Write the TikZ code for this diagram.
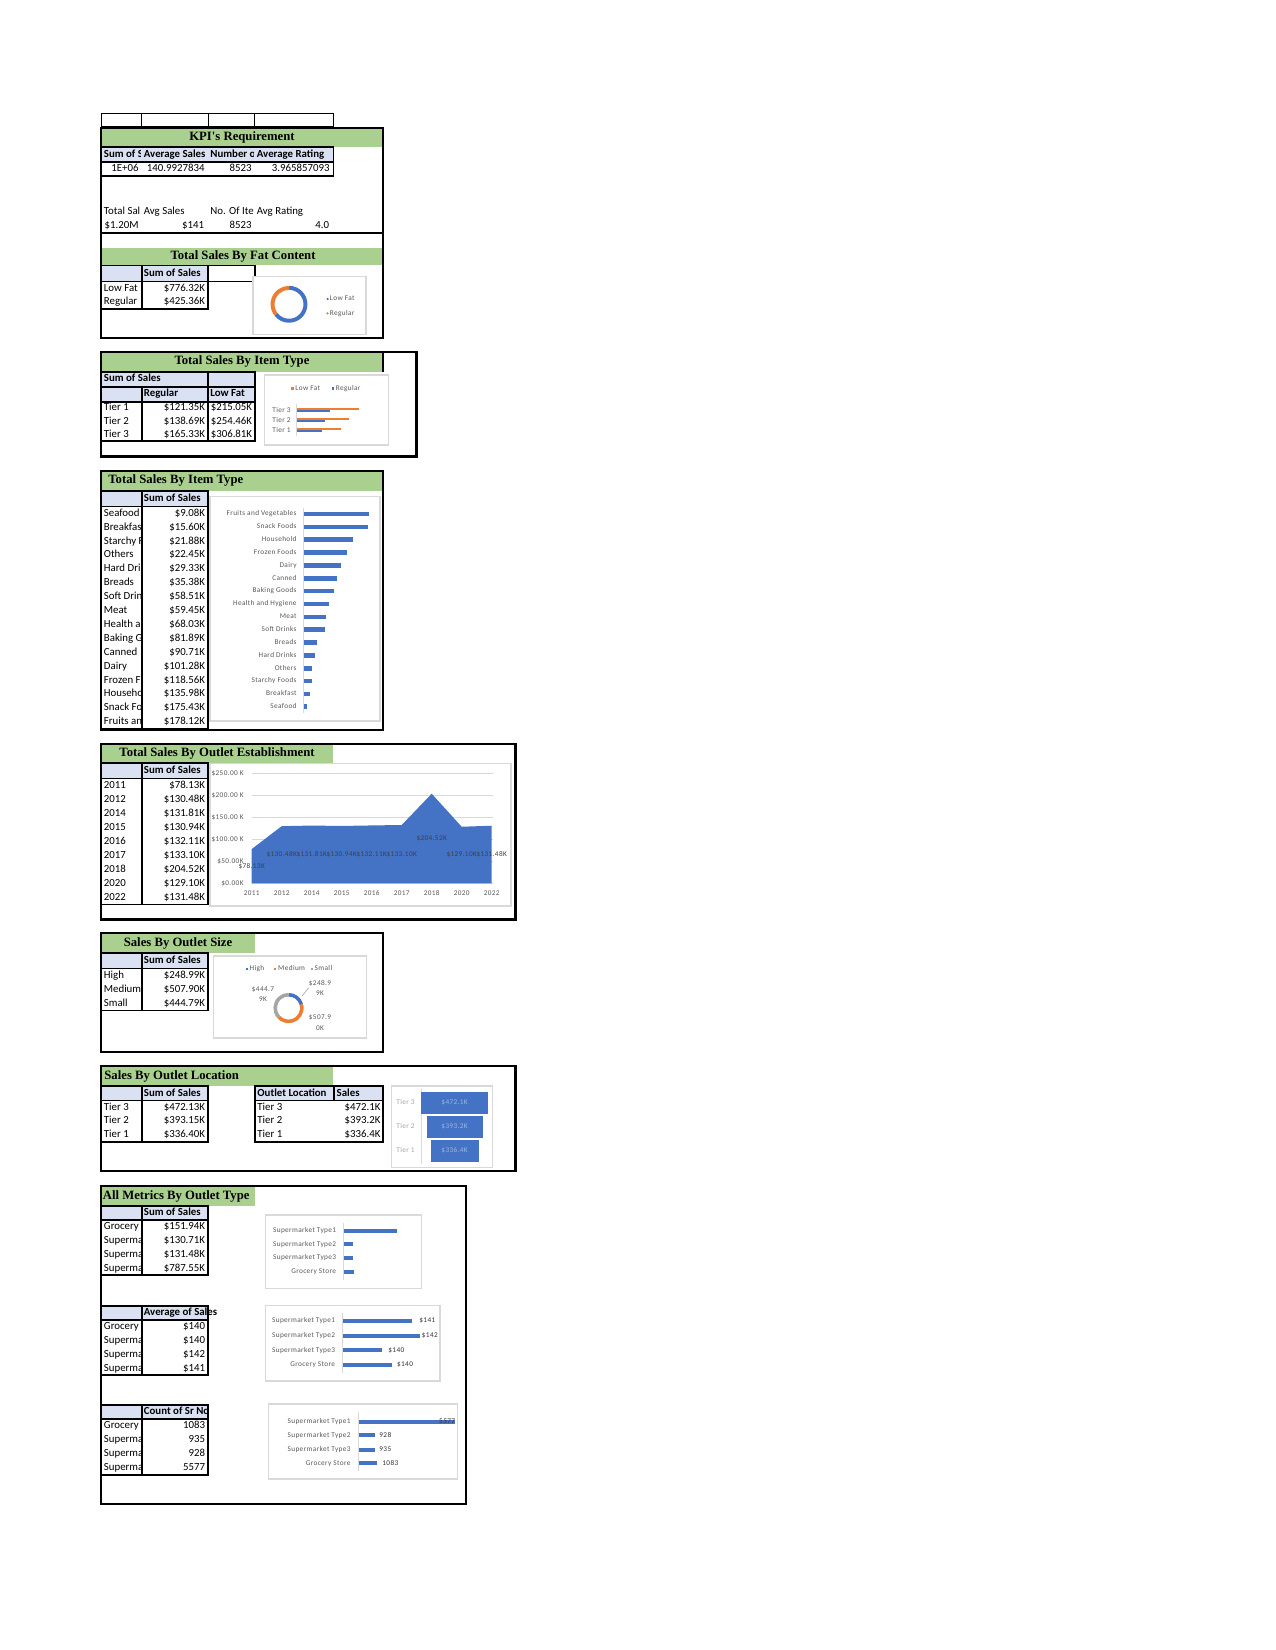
\documentclass[tikz,border=0pt]{standalone}
\usepackage{fontspec}
\setmainfont{Carlito}
\newfontfamily\ttlfam{Liberation Serif}
\newfontfamily\chfam[LetterSpace=5]{Carlito}
\newcommand\tabfont{\fontsize{5.2}{6}\selectfont}
\newcommand\ttlfont{\ttlfam\bfseries\fontsize{6.1}{7}\selectfont}
\newcommand\chfont{\chfam\fontsize{3.5}{4}\selectfont}

\definecolor{xlgreen}{HTML}{A9D08E}
\definecolor{xlhead}{HTML}{D9E1F2}
\definecolor{xlblue}{HTML}{4472C4}
\definecolor{xlorange}{HTML}{ED7D31}
\definecolor{xlgray}{HTML}{A5A5A5}
\definecolor{chartline}{HTML}{D9D9D9}
\definecolor{axistext}{HTML}{595959}
\definecolor{palelbl}{HTML}{9DB5E3}

\tikzset{
  secbox/.style={draw=black, line width=1.1pt},
  band/.style={fill=xlgreen},
  hdr/.style={fill=xlhead, draw=black, line width=0.8pt},
  blk/.style={draw=black, line width=0.8pt},
  ttl/.style={font=\ttlfont, inner sep=0pt},
  txt/.style={font=\tabfont, inner sep=0pt, text height=3.6pt, text depth=1pt, anchor=west},
  hd/.style={txt, font=\tabfont\bfseries},
  num/.style={txt, anchor=east},
  chbox/.style={draw=chartline, fill=white, line width=0.5pt},
  chlbl/.style={font=\chfont, text=axistext, inner sep=0pt, text height=2.6pt, text depth=0.8pt},
  gridln/.style={draw=chartline, line width=0.4pt},
}

\begin{document}
\begin{tikzpicture}[x=0.48pt, y=-0.48pt]
\useasboundingbox[fill=white] (0,0) rectangle (1275,1650);

% empty top row
\draw[line width=0.4pt] (101,113.3) rectangle (333.5,126.7);
\foreach \cx in {141.7,208,254.7}
  \draw[line width=0.4pt] (\cx,113.3) -- (\cx,126.7);

% KPI's Requirement
\fill[band] (101,128) rectangle (383,147);
\node[ttl] (kpittl) at (242,137.5) {KPI's Requirement};
\draw[hdr] (101,147) rectangle (333.5,161.7);
\draw[blk] (101,161.7) rectangle (333.5,176);
\foreach \hx/\hr/\hl [count=\i] in {103.5/140.5/Sum of S, 143.5/207/Average Sales, 210/253.5/Number o, 256.5/333/Average Rating} {
  \begin{scope}
    \clip (\hx-1,147) rectangle (\hr,161.7);
    \node[hd] (kpih\i) at (\hx,154.3) {\hl};
  \end{scope}
}
\foreach \vx/\vl [count=\i] in {139/1E+06, 205/140.9927834, 252/8523, 330/3.965857093}
  \node[num] (kpiv\i) at (\vx,168.8) {\vl};

% KPI cards
\foreach \hx/\hl [count=\i] in {103.5/Total Sal, 143.5/Avg Sales, 210/No. Of Ite, 256.5/Avg Rating}
  \node[txt] (kpil\i) at (\hx,211.7) {\hl};
\foreach \vx/\vl [count=\i] in {139/\$1.20M, 204.5/\$141, 252/8523, 329.5/4.0}
  \node[num] (kpin\i) at (\vx,226) {\vl};
\draw[line width=1pt] (101,233.3) -- (383,233.3);

% Total Sales By Fat Content
\fill[band] (101,248) rectangle (383,265.5);
\node[ttl] (fatttl) at (243,256.7) {Total Sales By Fat Content};
\draw[hdr] (101,265.5) rectangle (141.7,281.5);
\draw[hdr] (141.7,265.5) rectangle (208,281.5);
\draw[blk] (208,265.5) rectangle (254.7,281.5);
\node[hd] (fath) at (143.5,273.5) {Sum of Sales};
\draw[blk] (101,281.5) rectangle (141.7,309);
\draw[blk] (141.7,281.5) rectangle (208,309);
\node[txt] (fatl1) at (103.5,288.5) {Low Fat};
\node[num] (fatv1) at (205.5,288.5) {\$776.32K};
\node[txt] (fatl2) at (103.5,301.8) {Regular};
\node[num] (fatv2) at (205.5,301.8) {\$425.36K};

% fat chart
\draw[chbox] (253,276.7) rectangle (366,334.5);
\coordinate (fatc) at (289,304.3);
\draw[xlblue, line width=1.9pt] (fatc) ++(90:7.9pt) arc[start angle=90, end angle=-142.6, radius=7.9pt];
\draw[xlorange, line width=1.9pt] (fatc) ++(-142.6:7.9pt) arc[start angle=-142.6, end angle=-270, radius=7.9pt];
\fill[xlblue] (327.5,299) circle[radius=0.6pt];
\node[chlbl, anchor=west] (fatk1) at (329.5,299) {Low Fat};
\fill[xlorange] (327.5,313.3) circle[radius=0.6pt];
\node[chlbl, anchor=west] (fatk2) at (329.5,313.3) {Regular};
\draw[secbox] (101,128) rectangle (383,337.7);

% Total Sales By Item Type (tiers)
\fill[band] (101,351.7) rectangle (383,371.7);
\draw[line width=1pt] (383,351.7) -- (383,371.7);
\node[ttl] (tierttl) at (242,361.7) {Total Sales By Item Type};
\draw[hdr] (101,371.7) rectangle (208,386.7);
\draw[hdr] (208,371.7) rectangle (254.7,386.7);
\node[hd] (tierh0) at (103.5,379.2) {Sum of Sales};
\draw[hdr] (101,386.7) rectangle (141.7,401.7);
\draw[hdr] (141.7,386.7) rectangle (208,401.7);
\draw[hdr] (208,386.7) rectangle (254.7,401.7);
\node[hd] (tierh1) at (143.5,394.2) {Regular};
\node[hd] (tierh2) at (210,394.2) {Low Fat};
\foreach \x/\xx in {101/141.7, 141.7/208, 208/254.7}
  \draw[blk] (\x,401.7) rectangle (\xx,441);
\foreach \tn/\rv/\lv [count=\i from 0] in {Tier 1/121.35/215.05, Tier 2/138.69/254.46, Tier 3/165.33/306.81} {
  \node[txt] (tiert\i) at (103.5,{408.2+13.3*\i}) {\tn};
  \node[num] (tierr\i) at (205.5,{408.2+13.3*\i}) {\$\rv K};
  \node[num] (tierf\i) at (252.5,{408.2+13.3*\i}) {\$\lv K};
}

% tier chart
\draw[chbox] (264.3,375) rectangle (388.3,445);
\fill[xlorange] (291,386.9) rectangle ++(2.8,2.8);
\node[chlbl, anchor=west] (tierk1) at (295,388.3) {Low Fat};
\fill[xlblue] (331.5,386.9) rectangle ++(2.8,2.8);
\node[chlbl, anchor=west] (tierk2) at (335.5,388.3) {Regular};
\draw[gridln] (296.7,404) -- (296.7,436);
\foreach \tn/\rv/\lv/\cy [count=\i] in {Tier 3/165.33/306.81/410.3, Tier 2/138.69/254.46/420.3, Tier 1/121.35/215.05/430.3} {
  \node[chlbl, anchor=east] (tierc\i) at (291,\cy) {\tn};
  \fill[xlorange] (297,{\cy-2.6}) rectangle ++({0.2025*\lv},2.4);
  \fill[xlblue] (297,{\cy-0.2}) rectangle ++({0.2025*\rv},2.4);
}
\draw[secbox] (101,351.7) rectangle (416.6,456.6);

% Total Sales By Item Type (items)
\fill[band] (101,471) rectangle (383,490.7);
\node[ttl, anchor=west] (itemttl) at (108,480.8) {Total Sales By Item Type};
\draw[hdr] (101,490.7) rectangle (141.7,506.5);
\draw[hdr] (141.7,490.7) rectangle (208,506.5);
\node[hd] (itemh) at (143.5,498.6) {Sum of Sales};
\draw[blk] (101,506.5) rectangle (141.7,729);
\draw[blk] (141.7,506.5) rectangle (208,729);
\foreach \nm/\val [count=\i from 0] in {Seafood/9.08, Breakfas/15.60, Starchy F/21.88, Others/22.45, Hard Dri/29.33, Breads/35.38, Soft Drin/58.51, Meat/59.45, Health a/68.03, Baking G/81.89, Canned/90.71, Dairy/101.28, Frozen F/118.56, Househo/135.98, Snack Fo/175.43, Fruits an/178.12} {
  \begin{scope}
    \clip (101,506.5) rectangle (141.3,729);
    \node[txt] (itml\i) at (103.5,{513.5+13.9*\i}) {\nm};
  \end{scope}
  \node[num] (itmv\i) at (205.5,{513.5+13.9*\i}) {\$\val K};
}

% item chart
\draw[chbox] (210,496.7) rectangle (380,721);
\draw[gridln] (303.6,508) -- (303.6,713);
\foreach \nm/\val [count=\i from 0] in {Fruits and Vegetables/178.12, Snack Foods/175.43, Household/135.98, Frozen Foods/118.56, Dairy/101.28, Canned/90.71, Baking Goods/81.89, Health and Hygiene/68.03, Meat/59.45, Soft Drinks/58.51, Breads/35.38, Hard Drinks/29.33, Others/22.45, Starchy Foods/21.88, Breakfast/15.60, Seafood/9.08} {
  \node[chlbl, anchor=east] (itc\i) at (297,{514+12.85*\i}) {\nm};
  \fill[xlblue] (304,{514+12.85*\i-2.3}) rectangle ++({0.3635*\val},4.6);
}
\draw[secbox] (101,471) rectangle (383,730);

% Total Sales By Outlet Establishment
\fill[band] (101,744.3) rectangle (333.3,763.3);
\node[ttl] (estttl) at (217,753.8) {Total Sales By Outlet Establishment};
\draw[hdr] (101,763.3) rectangle (141.7,778.5);
\draw[hdr] (141.7,763.3) rectangle (208,778.5);
\node[hd] (esth) at (143.5,770.9) {Sum of Sales};
\draw[blk] (101,778.5) rectangle (141.7,904.5);
\draw[blk] (141.7,778.5) rectangle (208,904.5);
\foreach \yr/\val [count=\i from 0] in {2011/78.13, 2012/130.48, 2014/131.81, 2015/130.94, 2016/132.11, 2017/133.10, 2018/204.52, 2020/129.10, 2022/131.48} {
  \node[txt] (esty\i) at (103.5,{785.5+14*\i}) {\yr};
  \node[num] (estv\i) at (205.5,{785.5+14*\i}) {\$\val K};
}

% establishment chart
\draw[chbox] (210,763.3) rectangle (511,906);
\foreach \val/\lab [count=\i] in {250/\$250.00 K, 200/\$200.00 K, 150/\$150.00 K, 100/\$100.00 K, 50/\$50.00K, 0/\$0.00K} {
  \draw[gridln] (251.7,{883.3-0.438*\val}) -- (493,{883.3-0.438*\val});
  \node[chlbl, anchor=east] (esta\i) at (244,{883.3-0.438*\val}) {\lab};
}
\fill[xlblue] (251.7,883.3)
  \foreach \val [count=\i from 0] in {78.13,130.48,131.81,130.94,132.11,133.10,204.52,129.10,131.48} { -- ({251.7+30*\i},{883.3-0.438*\val}) }
  -- (491.7,883.3) -- cycle;
\foreach \yr [count=\i from 0] in {2011,2012,2014,2015,2016,2017,2018,2020,2022}
  \node[chlbl] (estx\i) at ({251.7+30*\i},893.3) {\yr};
\foreach \val [count=\i from 0] in {78.13,130.48,131.81,130.94,132.11,133.10,204.52,129.10,131.48}
  \node[chlbl, text=black!75] (estd\i) at ({251.7+30*\i},{883.3-0.219*\val}) {\$\val K};
\draw[secbox] (101,744.3) rectangle (515.5,919.4);

% Sales By Outlet Size
\fill[band] (101,933.3) rectangle (255,952.7);
\node[ttl] (sizettl) at (178,943) {Sales By Outlet Size};
\draw[hdr] (101,952.7) rectangle (141.7,968.5);
\draw[hdr] (141.7,952.7) rectangle (208,968.5);
\node[hd] (sizeh) at (143.5,960.6) {Sum of Sales};
\draw[blk] (101,968.5) rectangle (141.7,1010.5);
\draw[blk] (141.7,968.5) rectangle (208,1010.5);
\foreach \nm/\val [count=\i from 0] in {High/248.99, Medium/507.90, Small/444.79} {
  \node[txt] (sizel\i) at (103.5,{975.5+14*\i}) {\nm};
  \node[num] (sizev\i) at (205.5,{975.5+14*\i}) {\$\val K};
}

% size chart
\draw[chbox] (213.3,956) rectangle (366.7,1038);
\foreach \sx/\col/\nm [count=\i] in {245.5/xlblue/High, 274/xlorange/Medium, 310.5/xlgray/Small} {
  \fill[\col] (\sx,967.5) rectangle ++(2.4,2.4);
  \node[chlbl, anchor=west] (sizek\i) at ({\sx+3.8},968.7) {\nm};
}
\coordinate (sizec) at (288.5,1008);
\draw[xlblue, line width=1.7pt] (sizec) ++(90:6.4pt) arc[start angle=90, end angle=15.4, radius=6.4pt];
\draw[xlorange, line width=1.7pt] (sizec) ++(15.4:6.4pt) arc[start angle=15.4, end angle=-136.8, radius=6.4pt];
\draw[xlgray, line width=1.7pt] (sizec) ++(-136.8:6.4pt) arc[start angle=-136.8, end angle=-270, radius=6.4pt];
\node[chlbl] (sizea1) at (320,984) {\$248.9};
\node[chlbl] (sizea2) at (320,993.3) {9K};
\node[chlbl] (sizeb1) at (263,990) {\$444.7};
\node[chlbl] (sizeb2) at (263,999.5) {9K};
\node[chlbl] (sizem1) at (320,1018) {\$507.9};
\node[chlbl] (sizem2) at (320,1028.5) {0K};
\coordinate (sizeld) at (302,996);
\draw[xlgray, line width=0.3pt] (sizea1.south west) -- (sizeld);
\draw[secbox] (101,933.3) rectangle (383,1052);

% Sales By Outlet Location
\fill[band] (101,1066.3) rectangle (333.3,1086.3);
\node[ttl, anchor=west] (locttl) at (104,1076.3) {Sales By Outlet Location};
\draw[hdr] (101,1086.3) rectangle (141.7,1100.5);
\draw[hdr] (141.7,1086.3) rectangle (208,1100.5);
\node[hd] (loch) at (143.5,1093.4) {Sum of Sales};
\draw[blk] (101,1100.5) rectangle (141.7,1142);
\draw[blk] (141.7,1100.5) rectangle (208,1142);
\draw[hdr] (255,1086.3) rectangle (334.3,1100.5);
\draw[hdr] (334.3,1086.3) rectangle (383.3,1100.5);
\node[hd] (loch2) at (257,1093.4) {Outlet Location};
\node[hd] (loch3) at (336.3,1093.4) {Sales};
\draw[blk] (255,1100.5) rectangle (383.3,1142);
\foreach \tn/\val/\sv [count=\i from 0] in {Tier 3/472.13/472.1, Tier 2/393.15/393.2, Tier 1/336.40/336.4} {
  \node[txt] (locl\i) at (103.5,{1107.4+13.8*\i}) {\tn};
  \node[num] (locv\i) at (205.5,{1107.4+13.8*\i}) {\$\val K};
  \node[txt] (locm\i) at (257,{1107.4+13.8*\i}) {\tn};
  \node[num] (locs\i) at (380.8,{1107.4+13.8*\i}) {\$\sv K};
}

% funnel chart
\draw[chbox] (391.5,1086) rectangle (492.3,1167.7);
\draw[gridln] (421,1089) -- (421,1164);
\foreach \tn/\val/\cy [count=\i] in {Tier 3/472.1/1102.5, Tier 2/393.2/1126.5, Tier 1/336.4/1150.5} {
  \node[chlbl, text=xlgray, anchor=east] (funt\i) at (415,\cy) {\tn};
  \fill[xlblue] ({454.6-0.0713*\val},{\cy-11}) rectangle ++({0.1426*\val},22);
  \node[chlbl, text=palelbl] (funv\i) at (454.6,\cy) {\$\val K};
}
\draw[secbox] (101,1066.3) rectangle (515.5,1171);

% All Metrics By Outlet Type
\fill[band] (101,1185.7) rectangle (255,1206);
\node[ttl, anchor=west] (typttl) at (102.5,1196) {All Metrics By Outlet Type};
% sum of sales
\draw[hdr] (101,1206) rectangle (141.7,1220);
\draw[hdr] (141.7,1206) rectangle (208,1220);
\node[hd] (typh1) at (143.5,1213) {Sum of Sales};
\draw[blk] (101,1220) rectangle (141.7,1275.2);
\draw[blk] (141.7,1220) rectangle (208,1275.2);
% average of sales
\draw[hdr] (101,1305.7) rectangle (141.7,1320);
\draw[hdr] (141.7,1305.7) rectangle (208,1320);
\node[hd] (typh2) at (143.5,1312.8) {Average of Sales};
\draw[blk] (101,1320) rectangle (141.7,1375.2);
\draw[blk] (141.7,1320) rectangle (208,1375.2);
% count of sr no
\draw[hdr] (101,1405) rectangle (141.7,1419);
\draw[hdr] (141.7,1405) rectangle (208,1419);
\node[hd] (typh3) at (143.5,1412) {Count of Sr No};
\draw[blk] (101,1419) rectangle (141.7,1475);
\draw[blk] (141.7,1419) rectangle (208,1475);
\foreach \nm/\sa/\sb/\sc [count=\i from 0] in {Grocery/151.94/140/1083, Superma/130.71/140/935, Superma/131.48/142/928, Superma/787.55/141/5577} {
  \begin{scope}
    \clip (101,1200) rectangle (141.3,1480);
    \node[txt] (typa\i) at (103.5,{1226.9+13.8*\i}) {\nm};
    \node[txt] (typb\i) at (103.5,{1326.9+13.8*\i}) {\nm};
    \node[txt] (typc\i) at (103.5,{1426+14*\i}) {\nm};
  \end{scope}
  \node[num] (typav\i) at (205.5,{1226.9+13.8*\i}) {\$\sa K};
  \node[num] (typbv\i) at (205.5,{1326.9+13.8*\i}) {\$\sb};
  \node[num] (typcv\i) at (205.5,{1426+14*\i}) {\sc};
}

% sum of sales chart
\draw[chbox] (265.7,1215) rectangle (421.7,1288.3);
\draw[gridln] (343.3,1223) -- (343.3,1280);
\foreach \nm/\val/\cy [count=\i] in {Supermarket Type1/787.55/1230.7, Supermarket Type2/130.71/1244.3, Supermarket Type3/131.48/1258, Grocery Store/151.94/1271.5} {
  \node[chlbl, anchor=east] (typca\i) at (336.5,\cy) {\nm};
  \fill[xlblue] (343.8,{\cy-2}) rectangle ++({0.0678*\val},4);
}

% average of sales chart
\draw[chbox] (265.7,1305.7) rectangle (440,1381);
\draw[gridln] (342.7,1313) -- (342.7,1373);
\foreach \nm/\ex/\vl/\lx/\cy [count=\i] in {Supermarket Type1/412.4/\$141/419/1321, Supermarket Type2/420/\$142/421.5/1335.7, Supermarket Type3/381.7/\$140/388/1350.3, Grocery Store/391.7/\$140/396.7/1364.5} {
  \node[chlbl, anchor=east] (typcb\i) at (335.5,\cy) {\nm};
  \fill[xlblue] (343.2,{\cy-2}) rectangle (\ex,{\cy+2});
  \node[chlbl, text=black!80, anchor=west] (typcbv\i) at (\lx,\cy) {\vl};
}

% count chart
\draw[chbox] (268.3,1404) rectangle (457.6,1479);
\draw[gridln] (358.3,1412) -- (358.3,1471);
\foreach \nm/\val/\cy [count=\i] in {Supermarket Type1/5577/1421.5, Supermarket Type2/928/1435.3, Supermarket Type3/935/1449.5, Grocery Store/1083/1463.3} {
  \node[chlbl, anchor=east] (typcc\i) at (351,\cy) {\nm};
  \fill[xlblue] (358.8,{\cy-2}) rectangle ++({0.01725*\val},4);
}
\node[chlbl, text=black!80, anchor=east] (typccv1) at (455.5,1421.5) {5577};
\node[chlbl, text=black!80, anchor=west] (typccv2) at (379,1435.3) {928};
\node[chlbl, text=black!80, anchor=west] (typccv3) at (379,1449.5) {935};
\node[chlbl, text=black!80, anchor=west] (typccv4) at (382,1463.3) {1083};
\draw[secbox] (101,1185.7) rectangle (466,1504);

\end{tikzpicture}
\end{document}
